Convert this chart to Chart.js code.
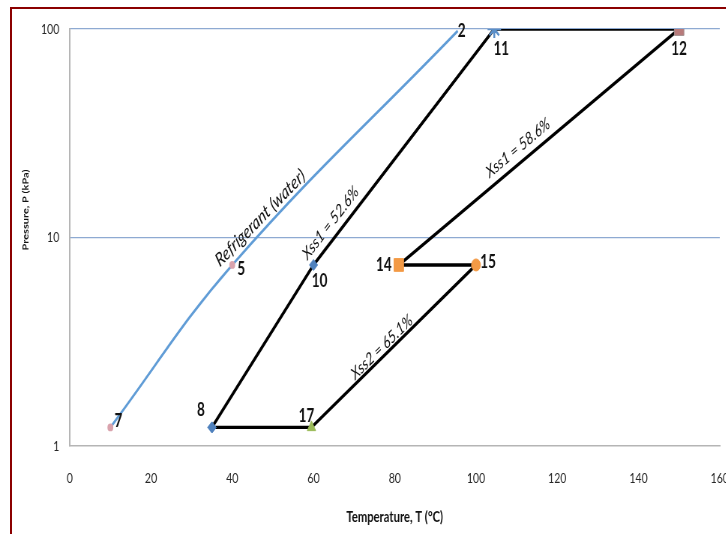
<!DOCTYPE html>
<html>
<head>
<meta charset="utf-8">
<title>Absorption cycle on the P–T diagram</title>
<script src="https://cdn.jsdelivr.net/npm/chart.js@4.4.1/dist/chart.umd.min.js"></script>
<style>
  html, body { margin: 0; padding: 0; background: #ffffff; }
  #wrap { position: relative; width: 726px; height: 534px; overflow: hidden; }
  #frame {
    position: absolute; left: 10px; top: 7px; width: 800px; height: 600px;
    border-left: 2px solid #8b0000; border-top: 2px solid #8b0000;
  }
  #inner { position: absolute; left: 0; top: 0; width: 1100px; height: 534px; }
  #plot { position: absolute; left: 0; top: 0; width: 740px; height: 534px; }
</style>
</head>
<body>
<div id="wrap">
  <div id="frame"></div>
  <div id="inner">
    <!-- drawn on a wider canvas and shown narrower, giving the condensed look -->
    <canvas id="plot" width="987" height="534" style="width:740px;height:534px"></canvas>
  </div>
</div>
<script>
// Refrigerant (water) saturation line: state points 7, 5, 2
const refrigerantIds = ['7', '5', '2'];
const refrigerantT = [10, 40, 95.5];
const refrigerantP = [1.228, 7.384, 98];

// Solution cycle, traced 8 → 10 → 11 → 12 → 14 → 15 → 17 → back to 8
const cycleIds = ['8', '10', '11', '12', '14', '15', '17', '8'];
const cycleT = [35, 60, 104.5, 150, 81, 100, 59.5, 35];
const cycleP = [1.228, 7.384, 100, 100, 7.384, 7.384, 1.228, 1.228];

// Concentration labels along cycle legs (legs given by cycle indices)
const legLabels = ['Xss1 = 52.6%', 'Xss1 = 58.6%', 'Xss2 = 65.1%'];
const legFrom = [1, 3, 5];
const legTo = [2, 4, 6];

// Axis ticks and titles
const xTicks = [0, 20, 40, 60, 80, 100, 120, 140, 160];
const yTicks = [1, 10, 100];
const xTitle = 'Temperature, T (°C)';
const yTitle = 'Pressure, P (kPa)';

// Horizontal shrink of the displayed canvas (CSS width / canvas width)
const SQUEEZE = 740 / 987;
const FONT = "Lato, 'Open Sans', 'DejaVu Sans', sans-serif";

// Marker look for each cycle state
const cycleMarker = {
  '8':  { style: 'rectRot',  r: 5.5, fill: '#4f81bd', stroke: '#4f81bd', w: 1 },
  '10': { style: 'rectRot',  r: 5.5, fill: '#4f81bd', stroke: '#4f81bd', w: 1 },
  '11': { style: 'star',     r: 9,   fill: '#4f81bd', stroke: '#5b8fc8', w: 2.5 },
  '12': { style: 'rect',     r: 9,   fill: '#b87a7a', stroke: '#a08c8c', w: 1 },
  '14': { style: 'rect',     r: 9,   fill: '#f39a45', stroke: '#f39a45', w: 1 },
  '15': { style: 'circle',   r: 6,   fill: '#f39a45', stroke: '#f39a45', w: 1 },
  '17': { style: 'triangle', r: 6.5, fill: '#9bbb59', stroke: '#9bbb59', w: 1 }
};

// Where each state number sits relative to its marker (screen px)
const idOffset = {
  '7': [8, -6], '5': [9, 4], '2': [4, 0],
  '8': [-11, -17], '10': [6, 16], '11': [7, 20], '12': [0, 20],
  '14': [-15, 0], '15': [12, -3], '17': [-5, -11]
};
// Label centre of the refrigerant line, from state 5 (screen px)
const refLabelShift = [28, -47];
// Leg label centres: from leg start for the first, from leg middle for the others (screen px)
const legShift = [[17, -42], [-21, 1], [-12, 1]];
// Centre of the vertical axis title (screen px)
const yTitlePos = [26, 210];

const refrigerantData = refrigerantT.map((t, i) => ({ x: t, y: refrigerantP[i] }));
const cycleData = cycleT.map((t, i) => ({ x: t, y: cycleP[i] }));

// Vertical axis title, placed a little above the middle of the axis
const yAxisTitle = {
  id: 'yAxisTitle',
  afterDraw(chart) {
    const { ctx } = chart;
    ctx.save();
    ctx.translate(yTitlePos[0] / SQUEEZE, yTitlePos[1]);
    ctx.rotate(-Math.PI / 2);
    ctx.fillStyle = '#111111';
    ctx.textAlign = 'center';
    ctx.textBaseline = 'middle';
    ctx.font = 'bold 11px ' + FONT;
    ctx.fillText(yTitle, 0, 0);
    ctx.restore();
  }
};

const pointLabels = {
  id: 'pointLabels',
  afterDatasetsDraw(chart) {
    const { ctx } = chart;
    const xs = chart.scales.x, ys = chart.scales.y;
    const px = (t) => xs.getPixelForValue(t);
    const py = (p) => ys.getPixelForValue(p);
    const dx = (v) => v / SQUEEZE;
    ctx.save();
    ctx.fillStyle = '#111111';
    ctx.textAlign = 'center';
    ctx.textBaseline = 'middle';
    ctx.font = 'bold 18px ' + FONT;

    refrigerantIds.forEach((id, i) => {
      const o = idOffset[id];
      ctx.fillText(id, px(refrigerantT[i]) + dx(o[0]), py(refrigerantP[i]) + o[1]);
    });
    const seen = new Set();
    cycleIds.forEach((id, i) => {
      if (seen.has(id)) return;
      seen.add(id);
      const o = idOffset[id];
      ctx.fillText(id, px(cycleT[i]) + dx(o[0]), py(cycleP[i]) + o[1]);
    });

    // Rotated italic labels following the lines
    const drawAlong = (text, x1, y1, x2, y2, cx, cy) => {
      const ang = Math.atan2(y2 - y1, x2 - x1);
      ctx.save();
      ctx.translate(cx, cy);
      ctx.rotate(ang);
      ctx.fillText(text, 0, 0);
      ctx.restore();
    };

    ctx.font = 'italic 19px ' + FONT;
    {
      const x1 = px(refrigerantT[1]), y1 = py(refrigerantP[1]);
      const x2 = px(refrigerantT[2]), y2 = py(refrigerantP[2]);
      drawAlong('Refrigerant (water)', x1, y1, x2, y2,
        x1 + dx(refLabelShift[0]), y1 + refLabelShift[1]);
    }

    ctx.font = 'italic 17px ' + FONT;
    legLabels.forEach((text, k) => {
      const a = legFrom[k], b = legTo[k];
      let x1 = px(cycleT[a]), y1 = py(cycleP[a]);
      let x2 = px(cycleT[b]), y2 = py(cycleP[b]);
      const s = legShift[k];
      let cx, cy;
      if (k === 0) { cx = x1 + dx(s[0]); cy = y1 + s[1]; }
      else { cx = (x1 + x2) / 2 + dx(s[0]); cy = (y1 + y2) / 2 + s[1]; }
      if (x2 < x1) { [x1, x2] = [x2, x1]; [y1, y2] = [y2, y1]; }
      drawAlong(text, x1, y1, x2, y2, cx, cy);
    });
    ctx.restore();
  }
};

new Chart(document.getElementById('plot'), {
  type: 'scatter',
  data: {
    datasets: [
      {
        label: 'Solution cycle',
        data: cycleData,
        showLine: true,
        tension: 0,
        borderColor: '#000000',
        borderWidth: 3.4,
        pointStyle: cycleIds.map(id => cycleMarker[id].style),
        pointRadius: cycleIds.map(id => cycleMarker[id].r),
        pointBackgroundColor: cycleIds.map(id => cycleMarker[id].fill),
        pointBorderColor: cycleIds.map(id => cycleMarker[id].stroke),
        pointBorderWidth: cycleIds.map(id => cycleMarker[id].w),
        order: 1
      },
      {
        label: 'Refrigerant (water)',
        data: refrigerantData,
        showLine: true,
        tension: 0.4,
        borderColor: '#609cd6',
        borderWidth: 2.8,
        pointRadius: [2.5, 2.5, 0],
        pointBackgroundColor: '#d9a3ad',
        pointBorderColor: '#d9a3ad',
        order: 2
      }
    ]
  },
  options: {
    responsive: false,
    animation: false,
    devicePixelRatio: 1,
    layout: { padding: { left: 0, top: 29, right: 27, bottom: 0 } },
    plugins: { legend: { display: false }, tooltip: { enabled: false } },
    scales: {
      x: {
        type: 'linear',
        min: 0, max: 160,
        afterBuildTicks: (s) => { s.ticks = xTicks.map(v => ({ value: v })); },
        afterFit: (s) => { s.height = 88; },
        grid: {
          display: true,
          drawOnChartArea: false,
          drawTicks: true,
          tickLength: 24,
          tickColor: 'rgba(0,0,0,0)'
        },
        border: { display: true, color: '#b5b5b5', width: 1.5 },
        ticks: {
          padding: 0,
          color: '#262626',
          font: { family: FONT, size: 14 },
          maxRotation: 0,
          callback: (v) => String(v)
        },
        title: {
          display: true,
          text: xTitle,
          color: '#111111',
          font: { family: FONT, size: 15, weight: 'bold' },
          padding: { top: 0, bottom: 8 }
        }
      },
      y: {
        type: 'logarithmic',
        min: 1, max: 100,
        afterBuildTicks: (s) => { s.ticks = yTicks.map(v => ({ value: v })); },
        afterFit: (s) => { s.width = 93; },
        grid: {
          drawTicks: false,
          color: (c) => (c.tick && c.tick.value === 1) ? 'rgba(0,0,0,0)' : '#8eaad2',
          lineWidth: 1.2
        },
        border: { display: true, color: '#b5b5b5', width: 2 },
        ticks: {
          padding: 14,
          color: '#262626',
          font: { family: FONT, size: 14 },
          callback: (v) => String(v)
        },
        title: { display: false, text: yTitle }
      }
    }
  },
  plugins: [pointLabels, yAxisTitle]
});
</script>
</body>
</html>
